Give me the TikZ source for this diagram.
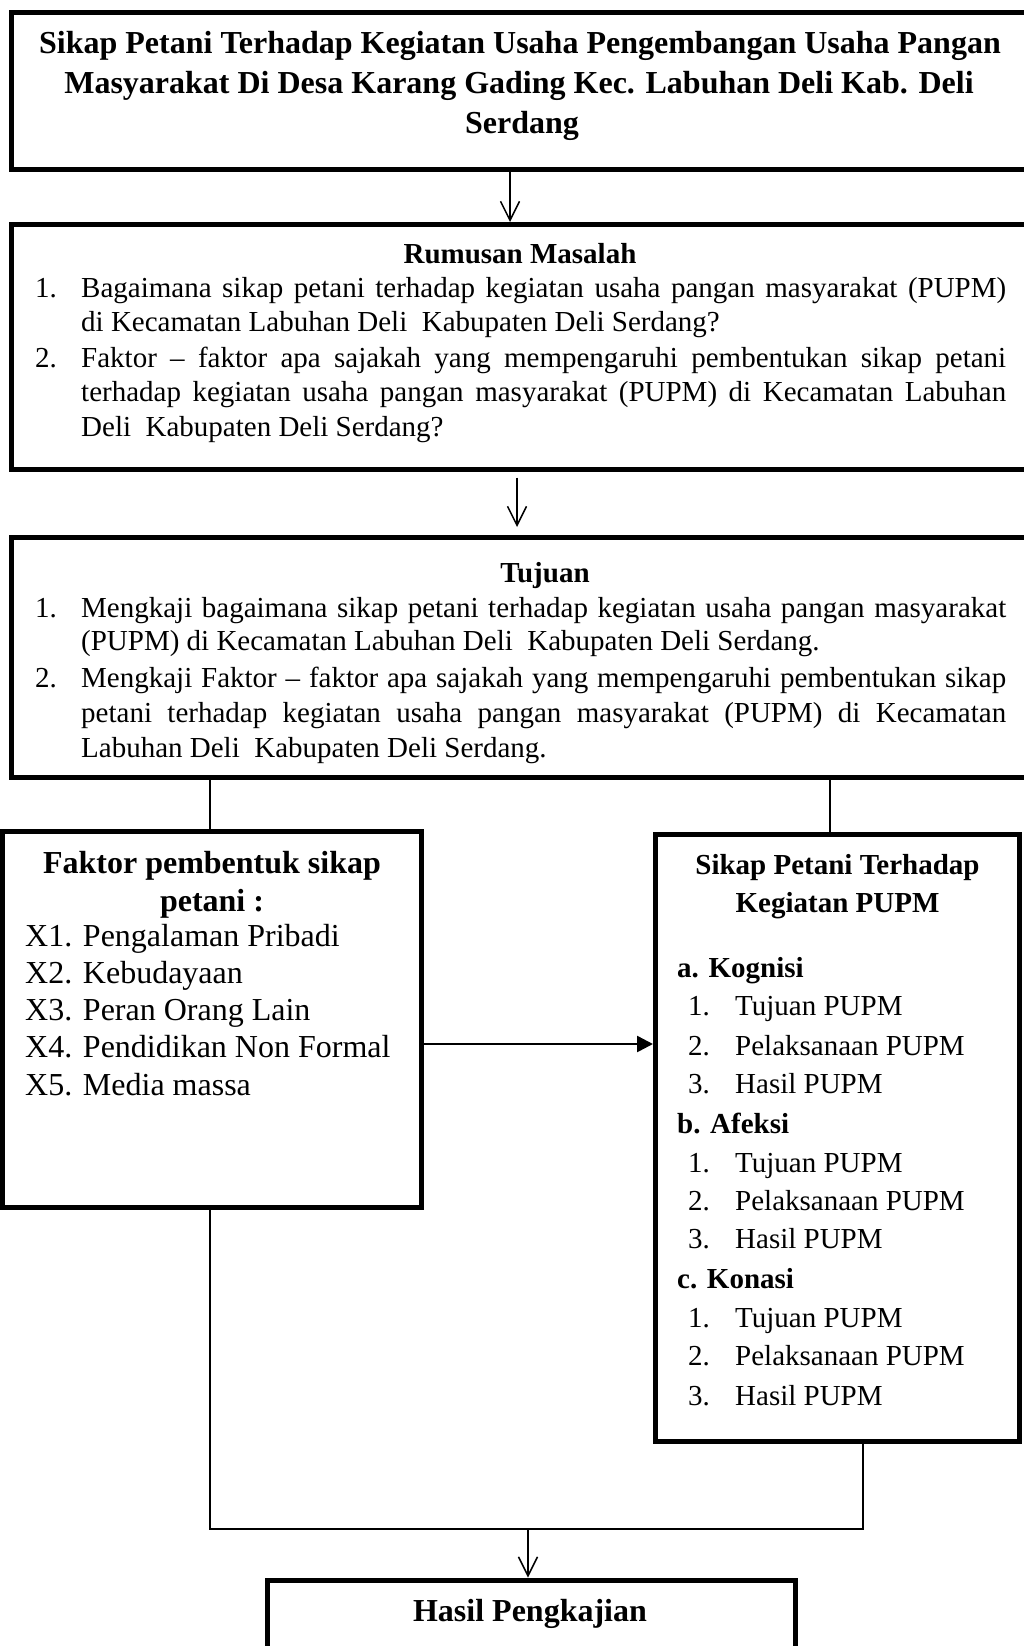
\documentclass[tikz,border=0pt]{standalone}
\usepackage{fontspec}
\setmainfont{Liberation Serif}
\usetikzlibrary{arrows.meta}
\newcommand\fsbody{\fontsize{29}{34}\selectfont}
\newcommand\fsbig{\fontsize{32}{38}\selectfont}
\newcommand\numbox[1]{\makebox[46pt][l]{#1}}
\newcommand\rnum[1]{\makebox[47pt][l]{#1}}
\newcommand\jline[1]{\makebox[925pt][s]{#1}}
\begin{document}
\begin{tikzpicture}[x=1pt,y=-1pt,
  box/.style={draw, line width=5pt, inner sep=0pt, outer sep=2.5pt},
  ln/.style={line width=1.5pt},
  arr/.style={line width=1.5pt, -{Straight Barb[length=19pt,width=19pt,line width=1.5pt]}},
  bigarr/.style={line width=2.5pt, -{Triangle[length=16pt,width=16pt]}},
  lt/.style={anchor=base west, inner sep=0pt, font=\fsbody},
  ct/.style={anchor=base, inner sep=0pt, font=\fsbody\bfseries},
  bigct/.style={anchor=base, inner sep=0pt, font=\fsbig\bfseries},
  biglt/.style={anchor=base west, inner sep=0pt, font=\fsbig},
  hd/.style={anchor=base west, inner sep=0pt, font=\fsbody\bfseries}]
\useasboundingbox (0,0) rectangle (1023,1646);
\fill[white] (0,0) rectangle (1023,1646);

% boxes
\node[box, minimum width=1023.5pt, minimum height=157pt] (judul) at (523.25,91) {};
\node[box, minimum width=1023.5pt, minimum height=244.5pt] (rumusan) at (523.25,346.75) {};
\node[box, minimum width=1023.5pt, minimum height=239.5pt] (tujuan) at (523.25,657.25) {};
\node[box, minimum width=418.5pt, minimum height=375.5pt] (faktor) at (211.75,1019.25) {};
\node[box, minimum width=364pt, minimum height=607pt] (sikap) at (837.5,1137.5) {};
\node[box, minimum width=528pt, minimum height=140pt] (hasil) at (531,1650) {};

% title
\node[bigct] (j1) at (520,53) {Sikap Petani Terhadap Kegiatan Usaha Pengembangan Usaha Pangan};
\node[bigct] (j2) at (519,93) {Masyarakat Di Desa Karang Gading Kec. Labuhan Deli Kab. Deli};
\node[bigct] (j3) at (522,133) {Serdang};

% rumusan masalah
\node[ct] (rh) at (520,263) {Rumusan Masalah};
\node[lt] (r1) at (35,297) {\numbox{1.}\jline{Bagaimana sikap petani terhadap kegiatan usaha pangan masyarakat (PUPM)}};
\node[lt] (r2) at (81,331) {di Kecamatan Labuhan Deli~ Kabupaten Deli Serdang?};
\node[lt] (r3) at (35,367) {\numbox{2.}\jline{Faktor – faktor apa sajakah yang mempengaruhi pembentukan sikap petani}};
\node[lt] (r4) at (81,401) {\jline{terhadap kegiatan usaha pangan masyarakat (PUPM) di Kecamatan Labuhan}};
\node[lt] (r5) at (81,436) {Deli~ Kabupaten Deli Serdang?};

% tujuan
\node[ct] (th) at (545,582) {Tujuan};
\node[lt] (t1) at (35,617) {\numbox{1.}\jline{Mengkaji bagaimana sikap petani terhadap kegiatan usaha pangan masyarakat}};
\node[lt] (t2) at (81,650) {(PUPM) di Kecamatan Labuhan Deli~ Kabupaten Deli Serdang.};
\node[lt] (t3) at (35,687) {\numbox{2.}\jline{Mengkaji Faktor – faktor apa sajakah yang mempengaruhi pembentukan sikap}};
\node[lt] (t4) at (81,722) {\jline{petani terhadap kegiatan usaha pangan masyarakat (PUPM) di Kecamatan}};
\node[lt] (t5) at (81,757) {Labuhan Deli~ Kabupaten Deli Serdang.};

% faktor
\node[bigct] (fh1) at (212,873) {Faktor pembentuk sikap};
\node[bigct] (fh2) at (212,911) {petani :};
\node[biglt] (x1) at (25,946) {X1. Pengalaman Pribadi};
\node[biglt] (x2) at (25,983) {X2. Kebudayaan};
\node[biglt] (x3) at (25,1020) {X3. Peran Orang Lain};
\node[biglt] (x4) at (25,1057) {X4. Pendidikan Non Formal};
\node[biglt] (x5) at (25,1095) {X5. Media massa};

% sikap
\node[ct] (sh1) at (837.5,874) {Sikap Petani Terhadap};
\node[ct] (sh2) at (837.5,912) {Kegiatan PUPM};
\node[hd] (sa) at (677,977) {a. Kognisi};
\node[lt] (sa1) at (688,1015) {\rnum{1.}Tujuan PUPM};
\node[lt] (sa2) at (688,1055) {\rnum{2.}Pelaksanaan PUPM};
\node[lt] (sa3) at (688,1093) {\rnum{3.}Hasil PUPM};
\node[hd] (sb) at (677,1133) {b. Afeksi};
\node[lt] (sb1) at (688,1172) {\rnum{1.}Tujuan PUPM};
\node[lt] (sb2) at (688,1210) {\rnum{2.}Pelaksanaan PUPM};
\node[lt] (sb3) at (688,1248) {\rnum{3.}Hasil PUPM};
\node[hd] (sc) at (677,1288) {c. Konasi};
\node[lt] (sc1) at (688,1327) {\rnum{1.}Tujuan PUPM};
\node[lt] (sc2) at (688,1365) {\rnum{2.}Pelaksanaan PUPM};
\node[lt] (sc3) at (688,1405) {\rnum{3.}Hasil PUPM};

% hasil
\node[bigct] (hh) at (530,1621) {Hasil Pengkajian};

% connectors
\coordinate (c1) at (510,0);
\coordinate (c2) at (517,0);
\coordinate (c3) at (210,0);
\coordinate (c4) at (830,0);
\coordinate (c5) at (0,1044);
\coordinate (c6) at (863,0);
\coordinate (c7) at (528,0);
\coordinate (jn) at (0,1529);
\draw[arr] (judul.south -| c1) -- (rumusan.north -| c1);
\draw[arr, shorten <=6pt, shorten >=8pt] (rumusan.south -| c2) -- (tujuan.north -| c2);
\draw[ln] (tujuan.south -| c3) -- (faktor.north -| c3);
\draw[ln] (tujuan.south -| c4) -- (sikap.north -| c4);
\draw[bigarr] (faktor.east |- c5) -- (sikap.west |- c5);
\draw[ln] (faktor.south -| c3) -- (c3 |- jn) -- (c6 |- jn) -- (sikap.south -| c6);
\draw[arr] (c7 |- jn) -- (hasil.north -| c7);
\end{tikzpicture}
\end{document}
